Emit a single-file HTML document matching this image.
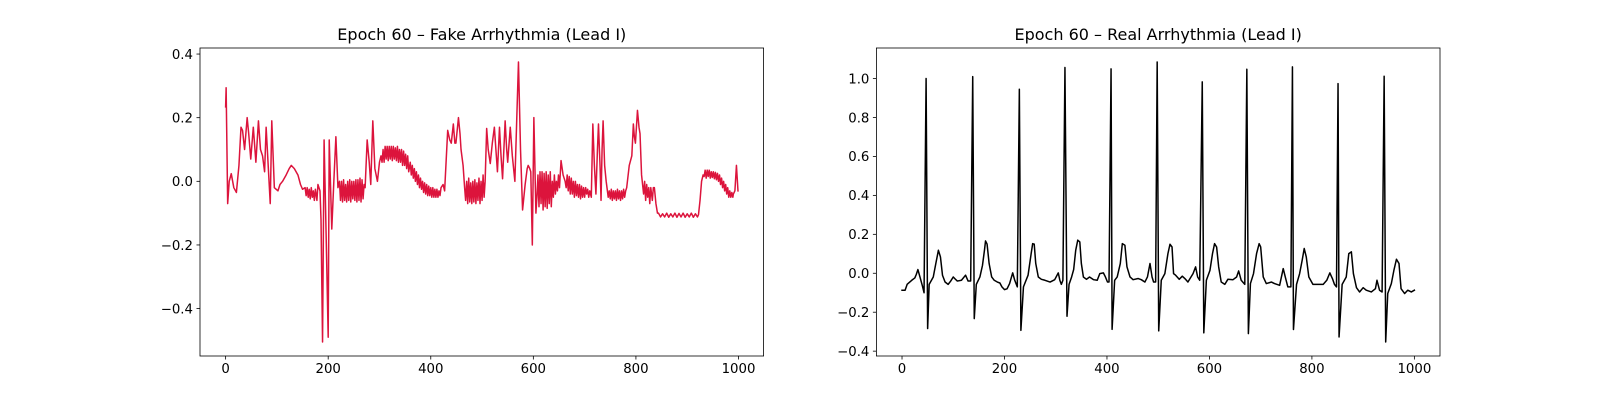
<!DOCTYPE html>
<html>
<head>
<meta charset="utf-8">
<style>
html,body{margin:0;padding:0;background:#fff;}
svg{display:block;}
text{font-family:"DejaVu Sans","Liberation Sans",sans-serif;fill:#000;}
</style>
</head>
<body>
<svg id="fig" width="1600" height="400" viewBox="0 0 1600 400" xmlns="http://www.w3.org/2000/svg">
<rect width="1600" height="400" fill="#fff"/>
<g id="left"></g>
<g id="right"></g>
</svg>
<script>
const xTicks = [0, 200, 400, 600, 800, 1000];
const fakeYTicks = [-0.4, -0.2, 0.0, 0.2, 0.4];
const realYTicks = [-0.4, -0.2, 0.0, 0.2, 0.4, 0.6, 0.8, 1.0];

const fakeX = [0,1,4,7,11,16,21,26,30,33,37,42,45,49,54,59,64,68,72,76,79,83,87,90,95,102,106,111,118,124,128,134,141,146,150,155,157,159,161,163,165,167,169,171,173,175,178,180,184,186,189,192,196,200,202,207,211,215,219,
222,224,226,228,230,232,234,236,238,240,242,244,246,248,250,252,254,256,258,260,262,264,266,268,270,
272,276,280,283,287,291,296,300,
303,305,307,309,311,313,315,317,319,321,323,325,327,329,331,333,335,337,339,341,343,345,347,349,351,353,355,357,
360,362,364,366,368,370,372,374,376,378,380,382,384,386,388,390,392,394,396,398,400,402,404,406,408,410,412,414,416,418,420,
424,427,433,437,440,444,447,449,454,457,459,463,466,
468,470,472,474,476,478,480,482,484,486,488,490,492,494,496,498,500,502,504,506,
509,512,516,520,524,527,530,534,537,540,545,548,550,555,559,564,571,575,579,584,588,590,593,595,598,601,605,
607,609,611,613,615,617,619,621,623,625,627,629,631,633,635,637,639,641,643,645,647,649,651,
654,658,662,
664,666,668,670,672,674,676,678,680,682,684,686,688,690,692,694,696,698,700,702,704,706,708,710,
713,716,719,722,725,727,730,732,734,736,739,742,
744,746,748,750,752,754,756,758,760,762,764,766,768,770,772,774,776,778,780,
782,787,792,795,797,799,801,803,806,808,811,813,815,817,819,821,823,825,827,829,832,834,836,839,842,
844,848,852,856,860,864,868,872,876,880,884,888,892,896,900,904,908,912,916,920,
922,925,928,931,
933,935,937,939,941,943,945,947,949,951,953,955,957,959,961,963,965,967,969,971,973,975,977,979,981,983,985,987,989,
990,993,996,999];
const fakeY = [0.234,0.294,-0.07,0.0,0.024,-0.02,-0.035,0.05,0.17,0.16,0.1,0.2,0.15,0.07,0.17,0.06,0.19,0.1,0.08,0.03,0.17,0.05,-0.07,0.19,-0.02,-0.03,-0.01,0.0,0.02,0.04,0.05,0.04,0.02,-0.01,-0.025,-0.02,-0.045,-0.02,-0.05,-0.025,-0.055,-0.02,-0.05,-0.03,-0.06,-0.025,-0.06,-0.01,-0.03,-0.12,-0.505,0.13,-0.17,-0.49,0.13,-0.15,0.0,0.14,-0.02,
0.0,-0.06,0.0,-0.065,0.005,-0.06,-0.01,-0.065,0.0,-0.06,0.005,-0.065,0.0,-0.055,0.0,-0.06,0.005,-0.065,0.005,-0.06,0.01,-0.065,0.005,-0.055,-0.01,
-0.02,0.13,0.06,-0.01,0.19,0.04,0.0,0.06,
0.08,0.06,0.1,0.06,0.11,0.07,0.11,0.065,0.11,0.07,0.11,0.065,0.11,0.07,0.105,0.065,0.11,0.06,0.1,0.06,0.1,0.05,0.095,0.05,0.085,0.04,0.08,0.03,
0.06,0.02,0.05,0.01,0.04,0.0,0.03,-0.01,0.02,-0.02,0.01,-0.025,0.0,-0.035,-0.005,-0.04,-0.01,-0.045,-0.015,-0.045,-0.02,-0.05,-0.02,-0.05,-0.025,-0.05,-0.025,-0.05,-0.03,-0.045,-0.02,
-0.01,-0.03,0.16,0.13,0.12,0.18,0.12,0.12,0.2,0.15,0.1,0.05,-0.02,
-0.06,0.0,-0.07,0.01,-0.065,-0.005,-0.07,0.0,-0.065,0.005,-0.07,-0.005,-0.06,0.01,-0.07,0.0,-0.06,0.02,-0.05,0.0,
0.166,0.1,0.056,0.12,0.17,0.1,0.03,0.17,0.08,0.008,0.19,0.1,0.06,0.17,0.08,0.0,0.375,0.1,-0.09,-0.01,0.04,0.05,0.04,0.03,-0.2,0.2,-0.1,
-0.05,0.02,-0.08,0.03,-0.07,0.03,-0.09,0.025,-0.08,0.03,-0.085,0.02,-0.07,0.03,-0.08,0.0,-0.05,0.02,-0.04,0.0,-0.03,0.02,-0.02,
0.065,0.02,0.0,
-0.02,0.02,-0.03,0.015,-0.04,0.01,-0.04,0.0,-0.05,0.0,-0.045,-0.01,-0.05,-0.01,-0.055,-0.015,-0.05,-0.02,-0.05,-0.02,-0.04,-0.025,-0.05,-0.03,
-0.05,0.18,0.05,-0.04,0.1,0.18,0.05,-0.06,0.1,0.19,0.05,0.0,
-0.025,-0.05,-0.03,-0.055,-0.025,-0.06,-0.03,-0.055,-0.03,-0.06,-0.025,-0.055,-0.03,-0.06,-0.03,-0.055,-0.025,-0.05,-0.03,
-0.02,0.05,0.08,0.18,0.14,0.12,0.17,0.223,0.17,0.15,0.02,-0.01,-0.04,0.0,-0.06,-0.01,-0.05,-0.02,-0.07,-0.02,-0.06,-0.02,-0.02,-0.07,-0.1,
-0.1,-0.112,-0.102,-0.112,-0.1,-0.113,-0.102,-0.112,-0.1,-0.113,-0.101,-0.112,-0.1,-0.113,-0.102,-0.112,-0.1,-0.113,-0.102,-0.112,
-0.105,-0.06,0.0,0.02,
0.015,0.035,0.01,0.035,0.015,0.035,0.01,0.03,0.012,0.03,0.008,0.028,0.005,0.025,0.0,0.02,-0.01,0.01,-0.02,0.0,-0.03,-0.01,-0.04,-0.02,-0.05,-0.03,-0.05,-0.035,-0.05,
-0.04,-0.03,0.05,-0.03];

const realX = [0,6,10,19,25,28,31,35,40,43,47,50,53,61,66,71,75,79,84,90,95,100,104,108,116,124,129,134,138,141,145,152,157,161,163,166,170,175,180,186,191,195,200,205,210,216,220,225,229,232,237,246,252,255,258,261,266,272,279,289,298,305,308,311,314,318,322,326,331,335,339,343,347,350,354,360,366,374,381,386,393,397,401,404,408,410,415,420,426,430,435,439,445,451,461,467,474,479,484,488,491,495,498,501,506,513,519,523,527,530,534,541,547,552,558,568,573,577,581,586,589,594,601,606,610,614,618,623,630,636,646,653,657,662,669,673,676,680,686,692,697,700,705,711,721,727,737,744,748,753,759,762,764,770,776,781,785,789,794,802,812,822,829,835,840,844,848,851,853,859,867,872,877,881,887,893,900,906,916,924,927,932,937,941,944,948,955,960,965,970,974,981,987,994,1000];
const realY = [-0.087,-0.087,-0.057,-0.036,-0.024,-0.005,0.019,-0.019,-0.067,-0.1,1.0,-0.284,-0.057,-0.019,0.05,0.118,0.084,-0.01,-0.045,-0.057,-0.04,-0.019,-0.03,-0.04,-0.036,-0.01,-0.04,-0.04,1.01,-0.233,-0.057,-0.019,0.04,0.12,0.166,0.15,0.05,-0.019,-0.036,-0.045,-0.05,-0.07,-0.084,-0.08,-0.053,0.002,-0.036,-0.07,0.945,-0.293,-0.07,-0.01,0.1,0.152,0.15,0.05,-0.019,-0.031,-0.036,-0.045,-0.033,0.002,-0.036,-0.057,-0.036,1.057,-0.221,-0.057,-0.019,0.019,0.118,0.17,0.161,0.05,-0.019,-0.031,-0.019,-0.033,-0.036,-0.002,0.002,-0.019,-0.045,-0.045,1.05,-0.288,-0.036,-0.019,0.05,0.152,0.144,0.033,-0.019,-0.033,-0.027,-0.033,-0.045,-0.019,0.05,-0.019,-0.045,-0.045,1.085,-0.296,-0.036,-0.002,0.101,0.149,0.135,-0.002,-0.01,-0.031,-0.015,-0.027,-0.045,-0.002,0.033,-0.019,-0.036,0.983,-0.306,-0.036,0.015,0.101,0.152,0.135,0.033,-0.045,-0.057,-0.031,-0.033,-0.019,0.012,-0.036,-0.057,1.048,-0.31,-0.053,-0.002,0.101,0.152,0.135,-0.019,-0.053,-0.045,-0.053,-0.062,0.024,-0.019,-0.07,-0.07,1.06,-0.289,-0.057,-0.002,0.067,0.127,0.084,-0.019,-0.057,-0.057,-0.057,-0.036,0.002,-0.027,-0.057,-0.07,0.974,-0.327,-0.057,-0.019,0.101,0.11,-0.002,-0.074,-0.096,-0.074,-0.087,-0.096,-0.079,-0.036,-0.087,-0.096,1.012,-0.353,-0.104,-0.053,0.015,0.072,0.05,-0.079,-0.104,-0.087,-0.096,-0.087];

const NS = "http://www.w3.org/2000/svg";
function mk(tag, attrs, parent) {
  const e = document.createElementNS(NS, tag);
  for (const k in attrs) e.setAttribute(k, attrs[k]);
  parent.appendChild(e);
  return e;
}
function fmt(v) {
  const s = v.toFixed(1);
  return s === "-0.0" ? "0.0" : s.replace("-", "\u2212");
}
function drawChart(g, L, R, T, B, xs, ys, yTicks, color, title) {
  const xmin = Math.min(...xs), xmax = Math.max(...xs);
  const ymin = Math.min(...ys), ymax = Math.max(...ys);
  const xl0 = xmin - 0.05 * (xmax - xmin), xl1 = xmax + 0.05 * (xmax - xmin);
  const yl0 = ymin - 0.05 * (ymax - ymin), yl1 = ymax + 0.05 * (ymax - ymin);
  const sx = v => L + (v - xl0) / (xl1 - xl0) * (R - L);
  const sy = v => B - (v - yl0) / (yl1 - yl0) * (B - T);
  let d = "";
  for (let i = 0; i < xs.length; i++) d += (i ? "L" : "M") + sx(xs[i]).toFixed(2) + " " + sy(ys[i]).toFixed(2);
  const line = mk("path", {d: d, fill: "none", stroke: color, "stroke-width": 1.5, "stroke-linejoin": "round", "stroke-linecap": "square"}, g);
  
  
  const frame = mk("rect", {x: L, y: T, width: R - L, height: B - T, fill: "none", stroke: "#000", "stroke-width": 0.8}, g);
  
  
  for (const t of xTicks) {
    const x = sx(t);
    const tk = mk("line", {x1: x, x2: x, y1: B, y2: B + 3.5, stroke: "#000", "stroke-width": 0.8}, g);
    
    
    const tl = mk("text", {x: x, y: B + 17, "text-anchor": "middle", "font-size": "13.3px"}, g);
    tl.textContent = String(t);
    
    
  }
  for (const t of yTicks) {
    const y = sy(t);
    const tk = mk("line", {x1: L - 3.5, x2: L, y1: y, y2: y, stroke: "#000", "stroke-width": 0.8}, g);
    
    
    const tl = mk("text", {x: L - 7, y: y + 4.8, "text-anchor": "end", "font-size": "13.3px"}, g);
    tl.textContent = fmt(t);
    
    
  }
  const ti = mk("text", {x: (L + R) / 2, y: T - 8, "text-anchor": "middle", "font-size": "16px"}, g);
  ti.textContent = title;
  
  
}
drawChart(document.getElementById("left"), 200, 763.6, 48, 356, fakeX, fakeY, fakeYTicks, "#dc143c", "Epoch 60 \u2013 Fake Arrhythmia (Lead I)");
drawChart(document.getElementById("right"), 876.4, 1440, 48, 356, realX, realY, realYTicks, "#000000", "Epoch 60 \u2013 Real Arrhythmia (Lead I)");
</script>
</body>
</html>
